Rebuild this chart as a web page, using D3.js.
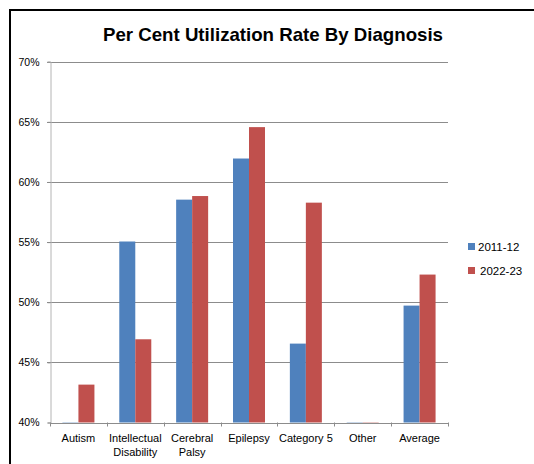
<!DOCTYPE html>
<html>
<head>
<meta charset="utf-8">
<script src="https://cdn.jsdelivr.net/npm/d3@7"></script>
<style>
  html, body { margin: 0; padding: 0; background: #fff; }
  svg { display: block; }
  text { font-family: "Liberation Sans", Arial, sans-serif; fill: #000; }
</style>
</head>
<body>
<svg id="chart" width="534" height="464"></svg>
<script>
const categories = ["Autism", "Intellectual Disability", "Cerebral Palsy", "Epilepsy", "Category 5", "Other", "Average"];
const categoryLines = [["Autism"], ["Intellectual", "Disability"], ["Cerebral", "Palsy"], ["Epilepsy"], ["Category 5"], ["Other"], ["Average"]];
const seriesNames = ["2011-12", "2022-23"];
const values2011 = [40.0, 55.05, 58.53, 61.95, 46.56, 40.0, 49.72];
const values2022 = [43.15, 46.92, 58.83, 64.56, 58.28, 40.0, 52.3];
const yTicks = [40, 45, 50, 55, 60, 65, 70];
const colors = ["#4F81BD", "#C0504D"];
const title = "Per Cent Utilization Rate By Diagnosis";

(function () {
const svg = d3.select("#chart");

// outer frame (clipped on right/bottom)
svg.append("path")
  .attr("d", "M10,464 L10,10 L534,10")
  .attr("fill", "none").attr("stroke", "#000").attr("stroke-width", 2);

const pLeft = 50, pRight = 448, pTop = 61.7, pBottom = 422.5;
const x = d3.scaleBand().domain(categories).range([pLeft, pRight]).padding(0);
const xs = d3.scaleBand().domain(seriesNames).range([0, 32]);
const y = d3.scaleLinear().domain([40, 70]).range([pBottom, pTop]);

// title
svg.append("text")
  .attr("x", 273).attr("y", 41)
  .attr("text-anchor", "middle")
  .style("font-weight", "bold").style("font-size", "18.5px")
  .attr("textLength", 340).attr("lengthAdjust", "spacingAndGlyphs")
  .text(title);

// gridlines
svg.append("g").selectAll("line").data(yTicks.filter(d => d > 40)).join("line")
  .attr("x1", pLeft - 3).attr("x2", pRight)
  .attr("y1", d => Math.round(y(d)) + 0.5).attr("y2", d => Math.round(y(d)) + 0.5)
  .attr("stroke", "#8c8c8c").attr("stroke-width", 1);

// y axis
const yAxis = d3.axisLeft(y).tickValues(yTicks).tickFormat(d => d + "%").tickSize(3).tickPadding(8);
const gy = svg.append("g").attr("transform", `translate(${pLeft + 0.5},0)`).call(yAxis);
gy.select(".domain").attr("stroke", "#b4b4b4");
gy.selectAll(".tick line").attr("stroke", "#8c8c8c");
gy.selectAll(".tick text").style("font-size", "10.5px").style("font-family", "Liberation Sans, Arial, sans-serif").attr("fill", "#111");

// bars
const data = categories.map((c, i) => ({ c, vals: [values2011[i], values2022[i]] }));
const groups = svg.append("g").selectAll("g").data(data).join("g")
  .attr("transform", d => `translate(${x(d.c) + x.bandwidth() / 2 - 16},0)`);
groups.selectAll("rect").data(d => d.vals.map((v, k) => ({ v, s: seriesNames[k], k }))).join("rect")
  .attr("x", d => xs(d.s))
  .attr("width", xs.bandwidth())
  .attr("y", d => Math.min(y(d.v), pBottom))
  .attr("height", d => Math.max(1.2, pBottom - y(d.v)))
  .attr("fill", d => colors[d.k])
  .attr("opacity", d => d.v <= 40 ? 0.6 : 1);

// x axis
const xAxis = d3.axisBottom(x).tickSize(0).tickFormat("");
const gx = svg.append("g").attr("transform", `translate(0,${pBottom + 0.5})`).call(xAxis);
gx.select(".domain").attr("stroke", "#8c8c8c");
// boundary ticks
svg.append("g").selectAll("line").data(categories.map(c => x(c)).concat([pRight])).join("line")
  .attr("x1", d => Math.round(d) + 0.5).attr("x2", d => Math.round(d) + 0.5)
  .attr("y1", pBottom).attr("y2", pBottom + 4)
  .attr("stroke", "#8c8c8c");

// x labels
const lbl = svg.append("g").selectAll("text").data(categories).join("text")
  .attr("text-anchor", "middle")
  .attr("x", d => x(d) + x.bandwidth() / 2)
  .attr("y", 442)
  .style("font-size", "11px");
lbl.each(function (d, i) {
  const sel = d3.select(this);
  categoryLines[i].forEach((line, j) => {
    sel.append("tspan").attr("x", x(d) + x.bandwidth() / 2).attr("dy", j === 0 ? 0 : 14).text(line);
  });
});

// legend
const legend = svg.append("g").selectAll("g").data(seriesNames).join("g")
  .attr("transform", (d, i) => `translate(468,${243 + i * 24})`);
legend.append("rect").attr("width", 7).attr("height", 7).attr("fill", (d, i) => colors[i]);
legend.append("text").attr("x", (d, i) => i === 0 ? 10 : 12).attr("y", 7.5)
  .style("font-size", "11.5px").text(d => d);
})();
</script>
</body>
</html>
